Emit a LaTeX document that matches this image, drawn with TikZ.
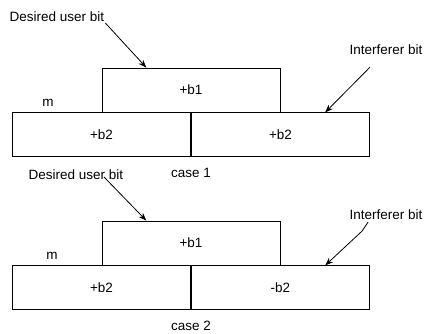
\documentclass[tikz,border=0pt]{standalone}
\usepackage{fontspec}
\setmainfont{Liberation Sans}
\usetikzlibrary{arrows.meta,positioning,calc}

\begin{document}
\begin{tikzpicture}[
  x=1pt,y=1pt,
  font=\fontsize{13.5}{15}\selectfont,
  slot/.style={draw,line width=0.9pt,minimum width=178pt,minimum height=44pt,inner sep=0pt},
  tag/.style={inner sep=1pt},
  >={Stealth[length=8pt,width=6pt]}
]
\useasboundingbox (0,0) rectangle (426,334);
% case 1
\node[slot] (t1) at (191,244) {+b1};
\node[slot,below left=0pt and 0pt of t1.south] (l1) {+b2};
\node[slot,below right=0pt and 0pt of t1.south] (r1) {+b2};
\node[tag] (d1) at (57,317) {Desired user bit};
\node[tag] (i1) at (386,284) {Interferer bit};
\node[tag,above right=5pt and 29pt of l1.north west] (m1) {m};
\node[tag,below=10pt of l1.south east] (c1) {case 1};
\draw[->,line width=0.8pt] (d1.south east) -- ($(t1.north west)!0.25!(t1.north east)$);
\draw[->,line width=0.8pt] ($(i1.south)+(-16,-11)$) -- ($(r1.north)!0.5!(r1.north east)$);
% case 2
\node[slot] (t2) at (191,91) {+b1};
\node[slot,below left=0pt and 0pt of t2.south] (l2) {+b2};
\node[slot,below right=0pt and 0pt of t2.south] (r2) {-b2};
\node[tag] (d2) at (76,159) {Desired user bit};
\node[tag] (i2) at (386,119) {Interferer bit};
\node[tag,above right=5pt and 33pt of l2.north west] (m2) {m};
\node[tag,below=10pt of l2.south east] (c2) {case 2};
\draw[->,line width=0.8pt] ($(d2.center)+(28,-2)$) -- ($(t2.north west)!0.25!(t2.north east)$);
\draw[->,line width=0.8pt] ($(i2.south)+(-18,-1)$) -- ++(-6,-9) -- ($(r2.north)!0.5!(r2.north east)$);
\end{tikzpicture}
\end{document}
